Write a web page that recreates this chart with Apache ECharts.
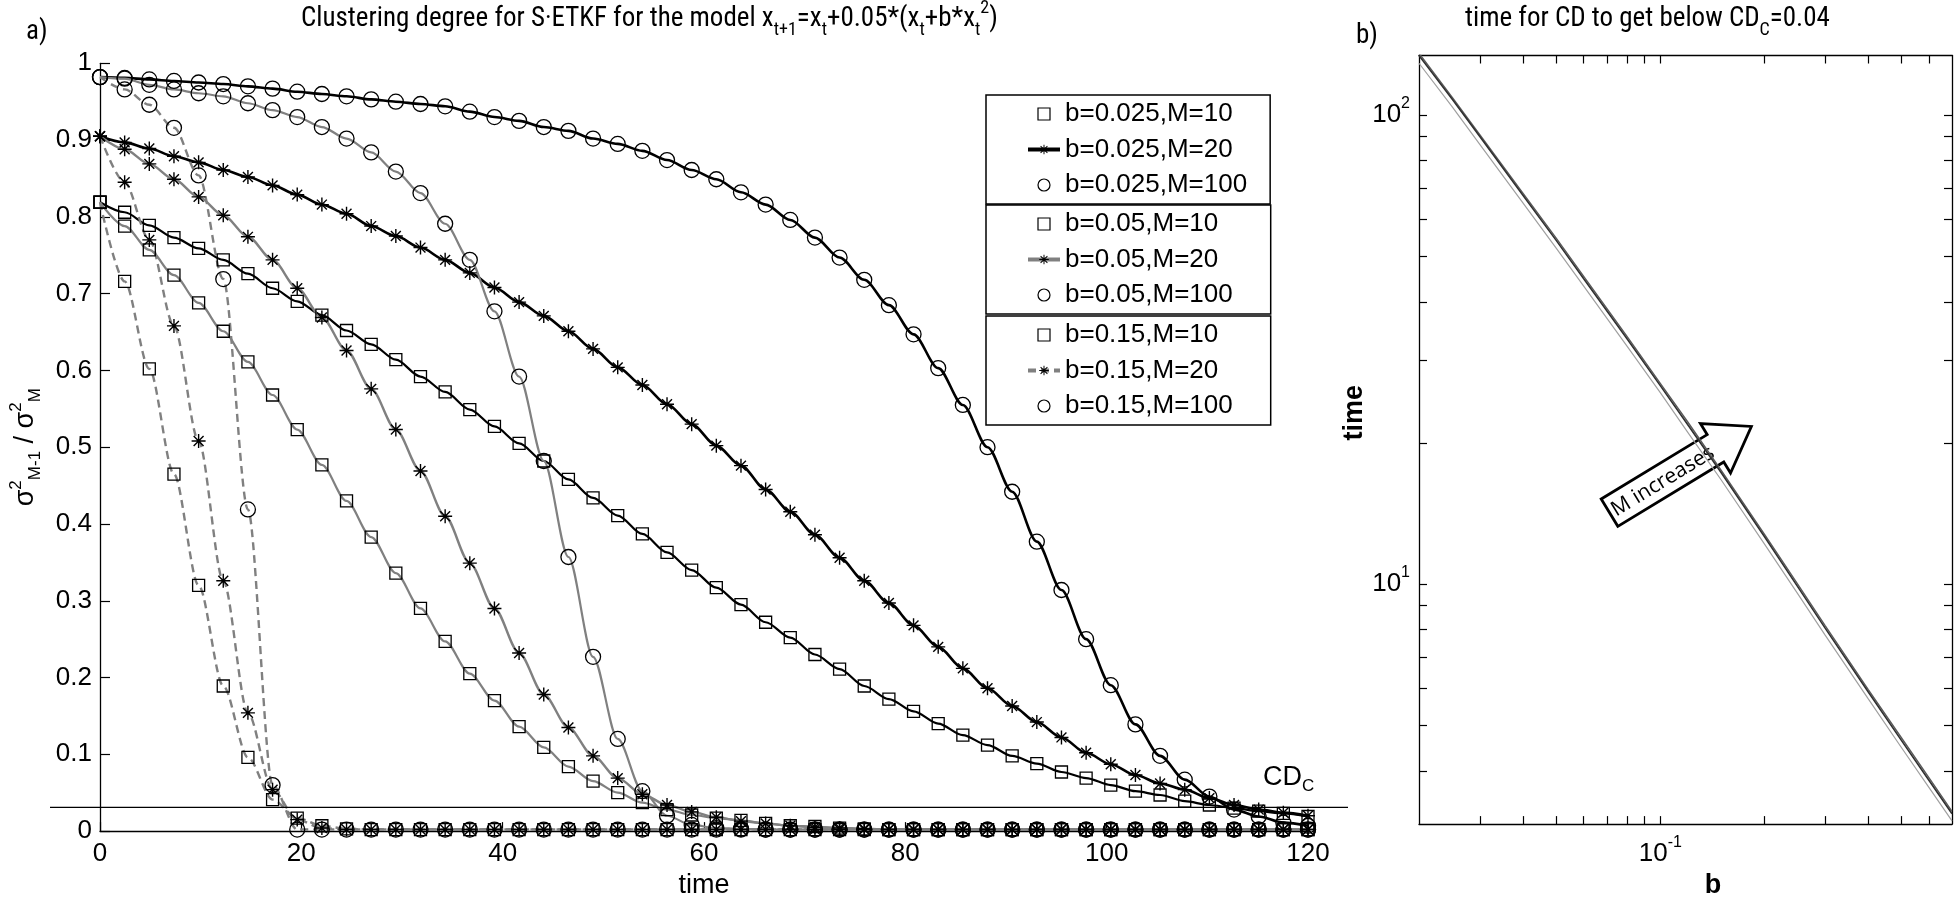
<!DOCTYPE html>
<html>
<head>
<meta charset="utf-8">
<title>Clustering degree for S-ETKF</title>
<script src="https://cdn.jsdelivr.net/npm/echarts@6.0.0/dist/echarts.min.js"></script>
<style>
html, body { margin: 0; padding: 0; background: #fff; }
#main { width: 1955px; height: 904px; }
</style>
</head>
<body>
<div id="main"></div>
<script>
// panel a: marker times (every 49th of the run) and clustering degree per case
var times = [0, 2.449, 4.898, 7.347, 9.796, 12.245, 14.694, 17.143, 19.592, 22.041,
    24.49, 26.939, 29.388, 31.837, 34.286, 36.735, 39.184, 41.633, 44.082, 46.531,
    48.98, 51.429, 53.878, 56.327, 58.776, 61.224, 63.673, 66.122, 68.571, 71.02,
    73.469, 75.918, 78.367, 80.816, 83.265, 85.714, 88.163, 90.612, 93.061, 95.51,
    97.959, 100.408, 102.857, 105.306, 107.755, 110.204, 112.653, 115.102, 117.551, 120];

var b025M10 = [0.819, 0.806, 0.789, 0.773, 0.759, 0.744, 0.726, 0.707, 0.690, 0.672,
    0.652, 0.634, 0.614, 0.592, 0.572, 0.549, 0.527, 0.505, 0.482, 0.458,
    0.434, 0.411, 0.387, 0.363, 0.340, 0.317, 0.295, 0.272, 0.252, 0.230,
    0.211, 0.189, 0.172, 0.156, 0.140, 0.125, 0.112, 0.098, 0.088, 0.077,
    0.069, 0.060, 0.052, 0.047, 0.039, 0.034, 0.030, 0.026, 0.023, 0.019];
var b025M20 = [0.905, 0.897, 0.889, 0.879, 0.871, 0.861, 0.852, 0.841, 0.829, 0.816,
    0.804, 0.788, 0.775, 0.760, 0.744, 0.727, 0.708, 0.689, 0.671, 0.651,
    0.628, 0.604, 0.581, 0.556, 0.530, 0.502, 0.476, 0.445, 0.416, 0.386,
    0.356, 0.326, 0.297, 0.268, 0.240, 0.212, 0.186, 0.163, 0.142, 0.122,
    0.102, 0.087, 0.073, 0.062, 0.054, 0.043, 0.034, 0.028, 0.024, 0.020];
var b025M100 = [0.982, 0.981, 0.979, 0.977, 0.975, 0.973, 0.970, 0.967, 0.963, 0.960,
    0.957, 0.953, 0.950, 0.947, 0.944, 0.937, 0.930, 0.925, 0.917, 0.912,
    0.902, 0.895, 0.886, 0.874, 0.861, 0.849, 0.832, 0.816, 0.796, 0.773,
    0.747, 0.718, 0.685, 0.647, 0.603, 0.555, 0.500, 0.442, 0.377, 0.314,
    0.250, 0.190, 0.139, 0.098, 0.067, 0.045, 0.028, 0.019, 0.011, 0.007];
var b05M10 = [0.819, 0.788, 0.757, 0.724, 0.688, 0.651, 0.611, 0.568, 0.523, 0.477,
    0.430, 0.383, 0.336, 0.290, 0.247, 0.205, 0.170, 0.136, 0.109, 0.084,
    0.065, 0.050, 0.037, 0.028, 0.021, 0.017, 0.014, 0.010, 0.007, 0.006,
    0.004, 0.003, 0.002, 0.002, 0.002, 0.002, 0.002, 0.002, 0.002, 0.002,
    0.002, 0.002, 0.002, 0.002, 0.002, 0.002, 0.002, 0.002, 0.002, 0.002];
var b05M20 = [0.905, 0.888, 0.869, 0.849, 0.826, 0.802, 0.774, 0.744, 0.707, 0.669,
    0.626, 0.576, 0.523, 0.469, 0.410, 0.349, 0.290, 0.232, 0.178, 0.135,
    0.098, 0.069, 0.048, 0.034, 0.025, 0.018, 0.013, 0.010, 0.007, 0.005,
    0.004, 0.003, 0.002, 0.002, 0.002, 0.002, 0.002, 0.002, 0.002, 0.002,
    0.002, 0.002, 0.002, 0.002, 0.002, 0.002, 0.002, 0.002, 0.002, 0.002];
var b05M100 = [0.982, 0.980, 0.972, 0.966, 0.961, 0.957, 0.948, 0.939, 0.930, 0.917,
    0.902, 0.884, 0.859, 0.831, 0.791, 0.744, 0.677, 0.592, 0.482, 0.357,
    0.227, 0.120, 0.052, 0.020, 0.008, 0.004, 0.003, 0.002, 0.002, 0.002,
    0.002, 0.002, 0.002, 0.002, 0.002, 0.002, 0.002, 0.002, 0.002, 0.002,
    0.002, 0.002, 0.002, 0.002, 0.002, 0.002, 0.002, 0.002, 0.002, 0.002];
var b15M10 = [0.819, 0.716, 0.602, 0.465, 0.320, 0.189, 0.096, 0.041, 0.017, 0.007,
    0.003, 0.002, 0.002, 0.002, 0.002, 0.002, 0.002, 0.002, 0.002, 0.002,
    0.002, 0.002, 0.002, 0.002, 0.002, 0.002, 0.002, 0.002, 0.002, 0.002,
    0.002, 0.002, 0.002, 0.002, 0.002, 0.002, 0.002, 0.002, 0.002, 0.002,
    0.002, 0.002, 0.002, 0.002, 0.002, 0.002, 0.002, 0.002, 0.002, 0.002];
var b15M20 = [0.905, 0.845, 0.770, 0.658, 0.508, 0.326, 0.154, 0.054, 0.015, 0.004,
    0.002, 0.002, 0.002, 0.002, 0.002, 0.002, 0.002, 0.002, 0.002, 0.002,
    0.002, 0.002, 0.002, 0.002, 0.002, 0.002, 0.002, 0.002, 0.002, 0.002,
    0.002, 0.002, 0.002, 0.002, 0.002, 0.002, 0.002, 0.002, 0.002, 0.002,
    0.002, 0.002, 0.002, 0.002, 0.002, 0.002, 0.002, 0.002, 0.002, 0.002];
var b15M100 = [0.982, 0.966, 0.946, 0.916, 0.854, 0.719, 0.419, 0.060, 0.002, 0.002,
    0.002, 0.002, 0.002, 0.002, 0.002, 0.002, 0.002, 0.002, 0.002, 0.002,
    0.002, 0.002, 0.002, 0.002, 0.002, 0.002, 0.002, 0.002, 0.002, 0.002,
    0.002, 0.002, 0.002, 0.002, 0.002, 0.002, 0.002, 0.002, 0.002, 0.002,
    0.002, 0.002, 0.002, 0.002, 0.002, 0.002, 0.002, 0.002, 0.002, 0.002];

var cdCrit = 0.04;

// panel b: time for CD to get below CDc, vs b
var bValues = [0.02, 0.025, 0.03, 0.04, 0.05, 0.06, 0.08, 0.1, 0.12, 0.15, 0.2, 0.25, 0.3, 0.4, 0.5, 0.6, 0.7];
var tLineA = [134, 108, 90, 67.5, 54, 44.8, 33.4, 26.5, 21.9, 17.3, 12.65, 9.88, 8.07, 5.9, 4.64, 3.82, 3.24];
var tLineB = [135.5, 109, 90.8, 68.2, 54.6, 45.3, 33.8, 26.8, 22.2, 17.5, 12.8, 10.0, 8.17, 5.97, 4.7, 3.87, 3.28];
var tLineC = [129, 104, 86.6, 65, 52, 43.2, 32.2, 25.6, 21.1, 16.7, 12.2, 9.55, 7.8, 5.7, 4.48, 3.69, 3.13];

var xTicksA = [0, 20, 40, 60, 80, 100, 120];
var bTicks = [0.03, 0.04, 0.05, 0.06, 0.07, 0.08, 0.09, 0.1, 0.2, 0.3, 0.4, 0.5, 0.6];
var bLabels = [0.1];
var tTicks = [4, 5, 6, 7, 8, 9, 10, 20, 30, 40, 50, 60, 70, 80, 90, 100];
var tLabels = [10, 100];

var FONT = 'Liberation Sans';
var NARROW = "'Liberation Sans Narrow', 'Roboto Condensed', 'DejaVu Sans Condensed', 'Liberation Sans'";
var GRAY = '#808080';
var STAR = 'path://M-1,-10L1,-10L1,10L-1,10Z M-10,-1L10,-1L10,1L-10,1Z ' +
    'M-6.36,-7.78L7.78,6.36L6.36,7.78L-7.78,-6.36Z M6.36,-7.78L7.78,-6.36L-6.36,7.78L-7.78,6.36Z';
var SQUARE = 'path://M0,0L10,0L10,10L0,10Z';

var myChart = echarts.init(document.getElementById('main'));

function pairs(xs, ys) {
    return xs.map(function (x, i) { return [x, ys[i]]; });
}

function curve(name, vals, marker, color, width, dashed) {
    var isStar = marker === 'star';
    return {
        name: name,
        type: 'line',
        xAxisIndex: 0,
        yAxisIndex: 0,
        data: pairs(times, vals),
        smooth: 0.3,
        smoothMonotone: 'x',
        clip: false,
        symbol: isStar ? STAR : marker,
        symbolSize: isStar ? 14 : (marker === 'rect' ? 12 : 15),
        showAllSymbol: true,
        lineStyle: { color: color, width: width, type: dashed ? [8, 5] : 'solid' },
        itemStyle: isStar ? { color: '#000' } :
            { color: 'rgba(0,0,0,0)', borderColor: '#000', borderWidth: 1.3 },
        emphasis: { disabled: true },
        animation: false
    };
}

function tLine(vals, color, width) {
    return {
        type: 'line',
        xAxisIndex: 2,
        yAxisIndex: 2,
        data: pairs(bValues, vals),
        symbol: 'none',
        lineStyle: { color: color, width: width },
        emphasis: { disabled: true },
        animation: false
    };
}

function legendBox(names, top, rightPad) {
    var hollow = { color: '#fff', borderColor: '#000', borderWidth: 1.2 };
    return {
        orient: 'vertical',
        left: 986,
        top: top,
        padding: [4, rightPad, 4, 40],
        itemWidth: 32,
        itemHeight: 12,
        itemGap: 5.5,
        symbolKeepAspect: true,
        selectedMode: false,
        borderColor: '#000',
        borderWidth: 1.5,
        borderRadius: 0,
        backgroundColor: '#fff',
        textStyle: { fontFamily: FONT, fontSize: 26, lineHeight: 30, color: '#000' },
        data: [
            { name: names[0], icon: SQUARE, itemStyle: hollow },
            { name: names[1], lineStyle: { width: 4 } },
            { name: names[2], icon: 'circle', itemStyle: hollow }
        ]
    };
}

function logLabel(v) {
    return '{m|10}{s|' + Math.round(Math.log(v) / Math.LN10) + '}';
}
var logRich = {
    m: { fontFamily: FONT, fontSize: 26, lineHeight: 40, color: '#000' },
    s: { fontFamily: FONT, fontSize: 16, lineHeight: 16, verticalAlign: 'top', color: '#000' }
};

var tickLine = { color: '#000', width: 1.2 };

var titleRich = {
    m: { fontFamily: NARROW, fontSize: 27, fontWeight: 'normal', lineHeight: 40, color: '#000' },
    s: { fontFamily: NARROW, fontSize: 18, fontWeight: 'normal', lineHeight: 12, verticalAlign: 'bottom', color: '#000' },
    p: { fontFamily: NARROW, fontSize: 18, fontWeight: 'normal', lineHeight: 34, verticalAlign: 'top', color: '#000' }
};

option = {
    backgroundColor: '#fff',
    animation: false,
    textStyle: { fontFamily: FONT },
    title: [{
        left: 296, top: -6,
        text: '{m|Clustering degree for S·ETKF for the model x}{s|t+1}{m|=x}{s|t}{m|+0.05*(x}{s|t}{m|+b*x}{s|t}{p|2}{m|)}',
        textStyle: { fontWeight: 'normal', rich: titleRich }
    }, {
        left: 1460, top: -6,
        text: '{m|time for CD to get below CD}{s|C}{m|=0.04}',
        textStyle: { fontWeight: 'normal', rich: titleRich }
    }, {
        left: 21, top: 14, text: 'a)',
        textStyle: { fontFamily: NARROW, fontSize: 27, fontWeight: 'normal', color: '#000' }
    }, {
        left: 1351, top: 18, text: 'b)',
        textStyle: { fontFamily: NARROW, fontSize: 27, fontWeight: 'normal', color: '#000' }
    }],
    legend: [
        legendBox(['b=0.025,M=10', 'b=0.025,M=20', 'b=0.025,M=100'], 95, 23),
        legendBox(['b=0.05,M=10', 'b=0.05,M=20', 'b=0.05,M=100'], 205, 38),
        legendBox(['b=0.15,M=10', 'b=0.15,M=20', 'b=0.15,M=100'], 316, 38)
    ],
    grid: [
        { left: 95.7, top: 63.3, width: 1212.3, height: 775 },
        { left: 50, top: 63.3, width: 1298, height: 775 },
        { left: 1419, top: 55.5, width: 533, height: 772.5 }
    ],
    xAxis: [{
        gridIndex: 0, type: 'value', min: 0, max: 120, interval: 20,
        name: 'time', nameLocation: 'middle', nameGap: 40,
        nameTextStyle: { fontFamily: FONT, fontSize: 27, color: '#000' },
        axisLine: { lineStyle: { color: '#000', width: 1.3 } },
        axisTick: { inside: true, length: 9, lineStyle: tickLine },
        axisLabel: { fontSize: 26, color: '#000', margin: 10, customValues: xTicksA },
        splitLine: { show: false }
    }, {
        gridIndex: 1, type: 'value', min: 0, max: 1, show: false
    }, {
        gridIndex: 2, type: 'log', logBase: 10, min: 0.02, max: 0.7, position: 'bottom',
        name: 'b', nameLocation: 'middle', nameGap: 26,
        nameTextStyle: { fontFamily: FONT, fontSize: 27, fontWeight: 'bold', color: '#000', padding: [0, 0, 0, 55] },
        axisLine: { lineStyle: { color: '#000', width: 1.3 } },
        axisTick: { inside: true, length: 8, lineStyle: tickLine, customValues: bTicks },
        axisLabel: { margin: 10, formatter: logLabel, rich: logRich, customValues: bLabels },
        splitLine: { show: false }
    }, {
        gridIndex: 2, type: 'log', logBase: 10, min: 0.02, max: 0.7, position: 'top',
        axisLine: { lineStyle: { color: '#000', width: 1.3 } },
        axisTick: { inside: true, length: 8, lineStyle: tickLine, customValues: bTicks },
        axisLabel: { show: false },
        splitLine: { show: false }
    }],
    yAxis: [{
        gridIndex: 0, type: 'value', min: 0, max: 1, interval: 0.1,
        name: '{g|σ}{p|2}{s|M-1}{g| / σ}{p|2}{s|M}',
        nameLocation: 'middle', nameRotate: 90, nameGap: 56,
        nameTextStyle: {
            rich: {
                g: { fontFamily: FONT, fontSize: 27, lineHeight: 36, color: '#000' },
                p: { fontFamily: FONT, fontSize: 17, lineHeight: 26, verticalAlign: 'top', color: '#000' },
                s: { fontFamily: FONT, fontSize: 17, lineHeight: 14, verticalAlign: 'bottom', color: '#000' }
            }
        },
        axisLine: { lineStyle: { color: '#000', width: 1.3 } },
        axisTick: { inside: true, length: 10, lineStyle: tickLine },
        axisLabel: { fontSize: 26, color: '#000', margin: 8 },
        splitLine: { show: false }
    }, {
        gridIndex: 1, type: 'value', min: 0, max: 1, show: false
    }, {
        gridIndex: 2, type: 'log', logBase: 10, min: 3.08, max: 134, position: 'left',
        name: 'time', nameLocation: 'middle', nameRotate: 90, nameGap: 22,
        nameTextStyle: { fontFamily: FONT, fontSize: 27, fontWeight: 'bold', color: '#000', padding: [0, 0, 0, 54] },
        axisLine: { lineStyle: { color: '#000', width: 1.3 } },
        axisTick: { inside: true, length: 8, lineStyle: tickLine, customValues: tTicks },
        axisLabel: { margin: 9, formatter: logLabel, rich: logRich, customValues: tLabels },
        splitLine: { show: false }
    }, {
        gridIndex: 2, type: 'log', logBase: 10, min: 3.08, max: 134, position: 'right',
        axisLine: { lineStyle: { color: '#000', width: 1.3 } },
        axisTick: { inside: true, length: 8, lineStyle: tickLine, customValues: tTicks },
        axisLabel: { show: false },
        splitLine: { show: false }
    }],
    series: [
        curve('b=0.025,M=10', b025M10, 'rect', '#000', 2.2, false),
        curve('b=0.025,M=20', b025M20, 'star', '#000', 2.6, false),
        curve('b=0.025,M=100', b025M100, 'circle', '#000', 2.6, false),
        curve('b=0.05,M=10', b05M10, 'rect', GRAY, 2.2, false),
        curve('b=0.05,M=20', b05M20, 'star', GRAY, 2.4, false),
        curve('b=0.05,M=100', b05M100, 'circle', GRAY, 2.2, false),
        curve('b=0.15,M=10', b15M10, 'rect', GRAY, 2.4, true),
        curve('b=0.15,M=20', b15M20, 'star', GRAY, 2.4, true),
        curve('b=0.15,M=100', b15M100, 'circle', GRAY, 2.4, true),
        {
            // critical clustering degree, drawn a bit past both ends of the axis
            type: 'line', xAxisIndex: 1, yAxisIndex: 1,
            data: [[0, cdCrit], [1, cdCrit]],
            symbol: 'none', silent: true,
            lineStyle: { color: '#000', width: 1.3 },
            animation: false
        },
        tLine(tLineC, '#a0a0a0', 1.2),
        tLine(tLineB, '#5a5a5a', 1.4),
        tLine(tLineA, '#303030', 1.6)
    ],
    graphic: [{
        type: 'group', x: 1683, y: 468, rotation: 0.546,
        children: [{
            type: 'polygon',
            shape: { points: [[-86, -16], [38, -16], [38, -29], [80, 0], [38, 29], [38, 16], [-86, 16]] },
            style: { fill: '#fff', stroke: '#000', lineWidth: 2.8 }
        }, {
            type: 'text', x: -24, y: 1,
            style: { text: 'M increases', fontFamily: 'Open Sans', fontSize: 21, fill: '#000', align: 'center', verticalAlign: 'middle' }
        }]
    }, {
        type: 'text', left: 1263, top: 764,
        style: {
            text: '{m|CD}{s|C}',
            rich: {
                m: { fontFamily: FONT, fontSize: 27, lineHeight: 34, fill: '#000' },
                s: { fontFamily: FONT, fontSize: 17, lineHeight: 16, verticalAlign: 'bottom', fill: '#000' }
            }
        }
    }]
};

if (option && typeof option === "object") {
    myChart.setOption(option, true);
}
</script>
</body>
</html>
